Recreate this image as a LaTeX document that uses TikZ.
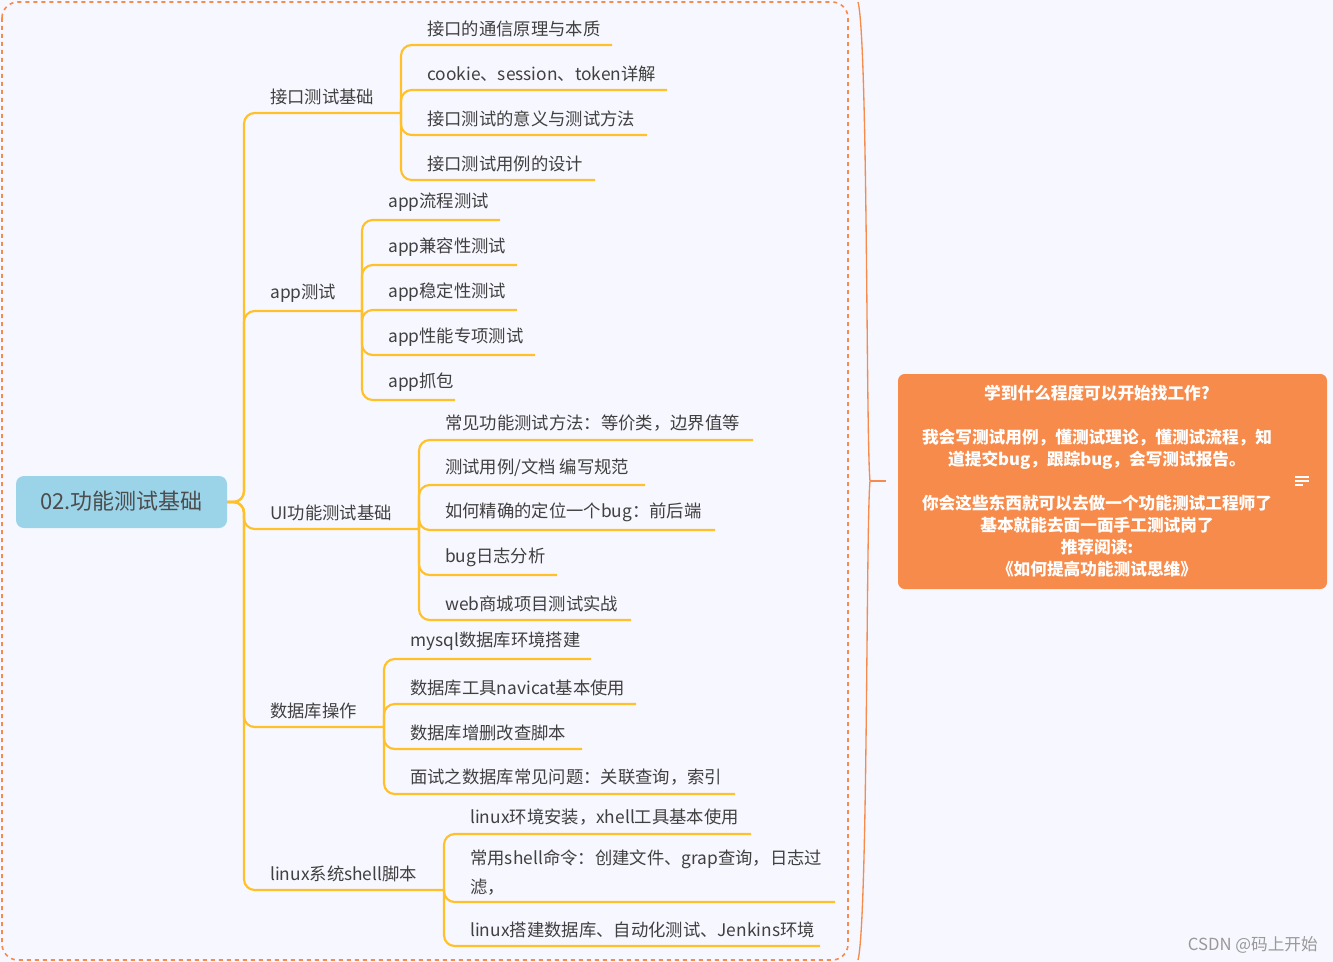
\documentclass[tikz,border=0pt]{standalone}
\usepackage{fontspec}
\setmainfont{Noto Sans CJK SC}
\definecolor{yel}{RGB}{255,192,40}
\definecolor{org}{RGB}{246,139,76}
\begin{document}
\begin{tikzpicture}[x=0.75pt,y=-0.75pt,
 yl/.style={draw=yel,line width=1.6pt,rounded corners=8pt},
 lbl/.style={anchor=south west,inner sep=0pt,font=\fontsize{13}{15}\selectfont,text=black!75}]
\fill[blue!3!white] (0,0) rectangle (1333,962);
\useasboundingbox (0,0) rectangle (1333,962);
\draw[org,dashed,line width=1.2pt,rounded corners=12pt] (2,2) rectangle (848,960);
\draw[org,line width=1pt] (858,2) .. controls (868,40) and (866,440) .. (870,481) .. controls (866,520) and (868,920) .. (858,960);
\draw[org,line width=1pt] (870,481) -- (886,481);
\fill[rounded corners=5pt,fill=org] (898,374) rectangle (1327,589);
\node[text=white,font=\bfseries\fontsize{12.5}{16.5}\selectfont,align=center] (tiptext) at (1097,481) {学到什么程度可以开始找工作?\\[16.5pt]我会写测试用例，懂测试理论，懂测试流程，知\\道提交bug，跟踪bug，会写测试报告。\\[16.5pt]你会这些东西就可以去做一个功能测试工程师了\\基本就能去面一面手工测试岗了\\推荐阅读:\\《如何提高功能测试思维》};
\foreach \yy/\xe in {477/1309,481/1309,485/1303} \draw[white,line width=0.8pt] (1295,\yy) -- (\xe,\yy);
\fill[rounded corners=6pt,fill={rgb,255:red,155;green,211;blue,232}] (16,476) rectangle (227,528);
\node[font=\fontsize{16.5}{18}\selectfont,text=black!70] (root) at (121.5,501) {02.功能测试基础};
\coordinate (r) at (227,502);
\node[anchor=south east,font=\fontsize{12.5}{14}\selectfont,text=black!40,inner sep=0pt] (wm) at (1318,954) {CSDN @码上开始};
\foreach \y/\ex/\t/\n in {113/401/接口测试基础/a,311/362/app测试/b,529/419/UI功能测试基础/c,727/384/数据库操作/d,890/444/linux系统shell脚本/e}{
 \node[lbl] (\n) at (270,\y-8) {\t};
 \draw[yl] (r) -- (244,502) |- (\ex,\y);
}
\newcommand\kids[2]{\foreach \y/\ex/\t [count=\i] in {#2}{
 \node[lbl] (k\i) at ({#1+26},\y-8) {\t};
 \draw[yl] (#1,\ypar) |- (\ex,\y);}}
\def\ypar{113}\kids{401}{45/612/接口的通信原理与本质,90/667/cookie、session、token详解,135/647/接口测试的意义与测试方法,180/595/接口测试用例的设计}
\def\ypar{311}\kids{362}{220/500/app流程测试,265/517/app兼容性测试,310/517/app稳定性测试,355/535/app性能专项测试,400/455/app抓包}
\def\ypar{529}\kids{419}{440/753/常见功能测试方法：等价类，边界值等,485/645/{测试用例/文档 编写规范},530/715/如何精确的定位一个bug：前后端,575/557/bug日志分析,620/631/web商城项目测试实战}
\def\ypar{727}\kids{384}{659/591/mysql数据库环境搭建,704/636/数据库工具navicat基本使用,749/582/数据库增删改查脚本,794/735/面试之数据库常见问题：关联查询，索引}
\def\ypar{890}\kids{444}{834/751/linux环境安装，xhell工具基本使用,946/820/linux搭建数据库、自动化测试、Jenkins环境}
\node[lbl,align=left,anchor=south west,font=\fontsize{13}{22}\selectfont] (k2) at (470,896) {常用shell命令：创建文件、grap查询，日志过\\滤，};
\draw[yl] (444,890) |- (835,902);
\end{tikzpicture}
\end{document}
